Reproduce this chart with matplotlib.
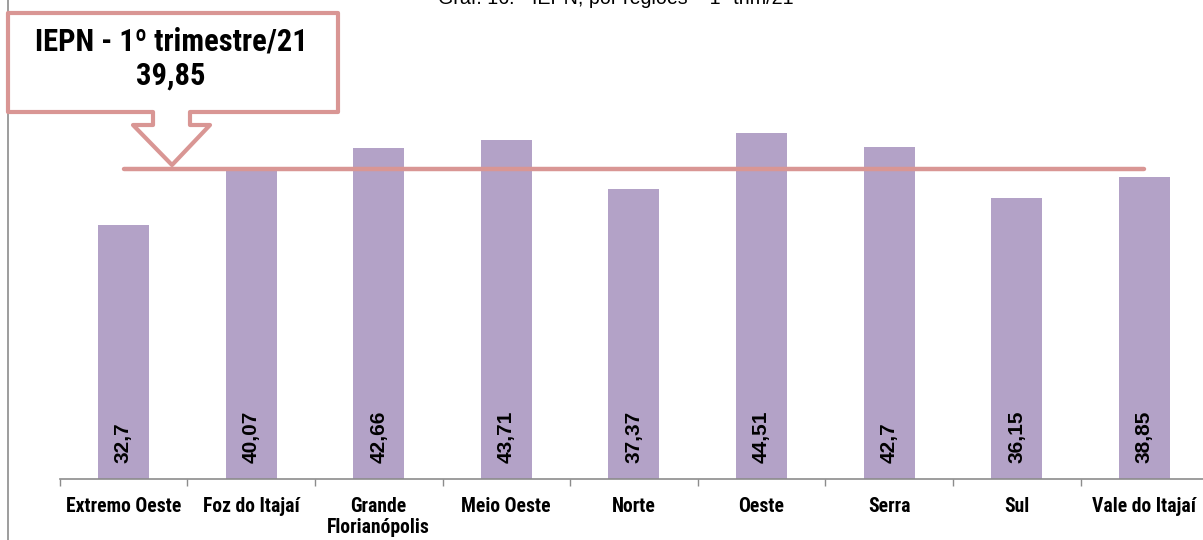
import matplotlib
matplotlib.use("Agg")
import matplotlib.pyplot as plt
from matplotlib import font_manager
from matplotlib.font_manager import FontProperties
from matplotlib.patches import Polygon, Rectangle
from matplotlib.textpath import TextPath

regions = ["Extremo Oeste", "Foz do Itajaí", "Grande\nFlorianópolis", "Meio Oeste",
           "Norte", "Oeste", "Serra", "Sul", "Vale do Itajaí"]
iepn = [32.7, 40.07, 42.66, 43.71, 37.37, 44.51, 42.7, 36.15, 38.85]
value_labels = ["32,7", "40,07", "42,66", "43,71", "37,37", "44,51", "42,7", "36,15", "38,85"]
state_mean = 39.85
state_label = "39,85"
box_title = "IEPN - 1º trimestre/21"
chart_title = "Graf. 16: - IEPN, por regiões – 1º trim/21"

BAR = "#B3A2C7"
ROSE = "#D99694"
GRID = "#8C8C8C"


def narrow_bold():
    # the source uses Arial Narrow Bold; look for something close
    fonts = font_manager.fontManager.ttflist
    wanted = ["Liberation Sans Narrow", "Arial Narrow", "Roboto Condensed",
              "Open Sans Condensed", "Noto Sans Condensed"]
    for name in wanted:
        for f in fonts:
            if f.name == name and f.weight in ("bold", 700) and f.style == "normal":
                return FontProperties(fname=f.fname)
    for f in fonts:
        if f.stretch in ("condensed", "semi-condensed") and f.weight in ("bold", 700) \
                and f.style == "normal" and "Mono" not in f.name:
            return FontProperties(fname=f.fname)
    return FontProperties(family="Liberation Sans", weight="bold")


def fit_size(text, prop, target_px):
    # font size (pt) that makes the text about target_px wide at 100 dpi
    em = TextPath((0, 0), text, size=1, prop=prop).get_extents().width
    return target_px / em * 72 / 100


NARROW = narrow_bold()
BOLD = FontProperties(family="Liberation Sans", weight="bold")
PLAIN = FontProperties(family="Liberation Sans")

W, H = 1203, 540
fig = plt.figure(figsize=(W / 100, H / 100), dpi=100)


def px(x, y):
    # pixel coords (top-left origin) -> figure fraction
    return (x / W, 1 - y / H)


ax = fig.add_axes([59.7 / W, (H - 479) / H, 1148.4 / W, 466 / H])
x = range(len(regions))
ax.bar(x, iepn, width=0.4, color=BAR, zorder=2)
ax.plot([0, len(regions) - 1], [state_mean, state_mean], color=ROSE, lw=3.2,
        solid_capstyle="round", zorder=3)

for i, lab in enumerate(value_labels):
    ax.text(i, 2.0, lab, rotation=90, ha="center", va="bottom",
            fontproperties=BOLD, fontsize=15, color="black", zorder=4)

label_size = min(fit_size("Extremo Oeste", NARROW, 113), 14.5)
ax.set_xlim(-0.5, len(regions) - 0.5)
ax.set_ylim(0, 60)
ax.set_yticks([])
ax.set_xticks(list(x))
ax.set_xticklabels(regions, fontproperties=NARROW, fontsize=label_size, linespacing=1.1)
ax.set_xticks([i - 0.5 for i in range(len(regions) + 1)], minor=True)
ax.tick_params(axis="x", which="major", length=0, pad=13)
ax.tick_params(axis="x", which="minor", length=5, color=GRID, width=1)
for side in ["top", "right", "left"]:
    ax.spines[side].set_visible(False)
ax.spines["bottom"].set_color(GRID)
ax.spines["bottom"].set_linewidth(1.2)

# outer chart frame (cut off at right and bottom in the source)
fig.patches.append(Rectangle(px(8, 600), (W + 50) / W, 700 / H, transform=fig.transFigure,
                             fill=False, edgecolor=GRID, lw=1.2, zorder=0))

# callout box with downward arrow
pts = [(338, 13), (338, 112), (190, 112), (190, 125), (210, 125), (172, 165),
       (133, 125), (153, 125), (153, 112), (8, 112), (8, 13)]
fig.patches.append(Polygon([px(a, b) for a, b in pts], closed=True,
                           transform=fig.transFigure, facecolor="white",
                           edgecolor=ROSE, lw=3, joinstyle="round", zorder=5))
box_size = min(fit_size(box_title, NARROW, 266), 23)
fig.text(*px(171, 42), box_title, ha="center", va="center",
         fontproperties=NARROW, fontsize=box_size, zorder=6)
fig.text(*px(171, 76), state_label, ha="center", va="center",
         fontproperties=NARROW, fontsize=box_size, zorder=6)

fig.text(*px(616, 4), chart_title, ha="center", va="baseline",
         fontproperties=PLAIN, fontsize=fit_size(chart_title, PLAIN, 352))

fig.savefig("out.png", dpi=100, facecolor="white")
